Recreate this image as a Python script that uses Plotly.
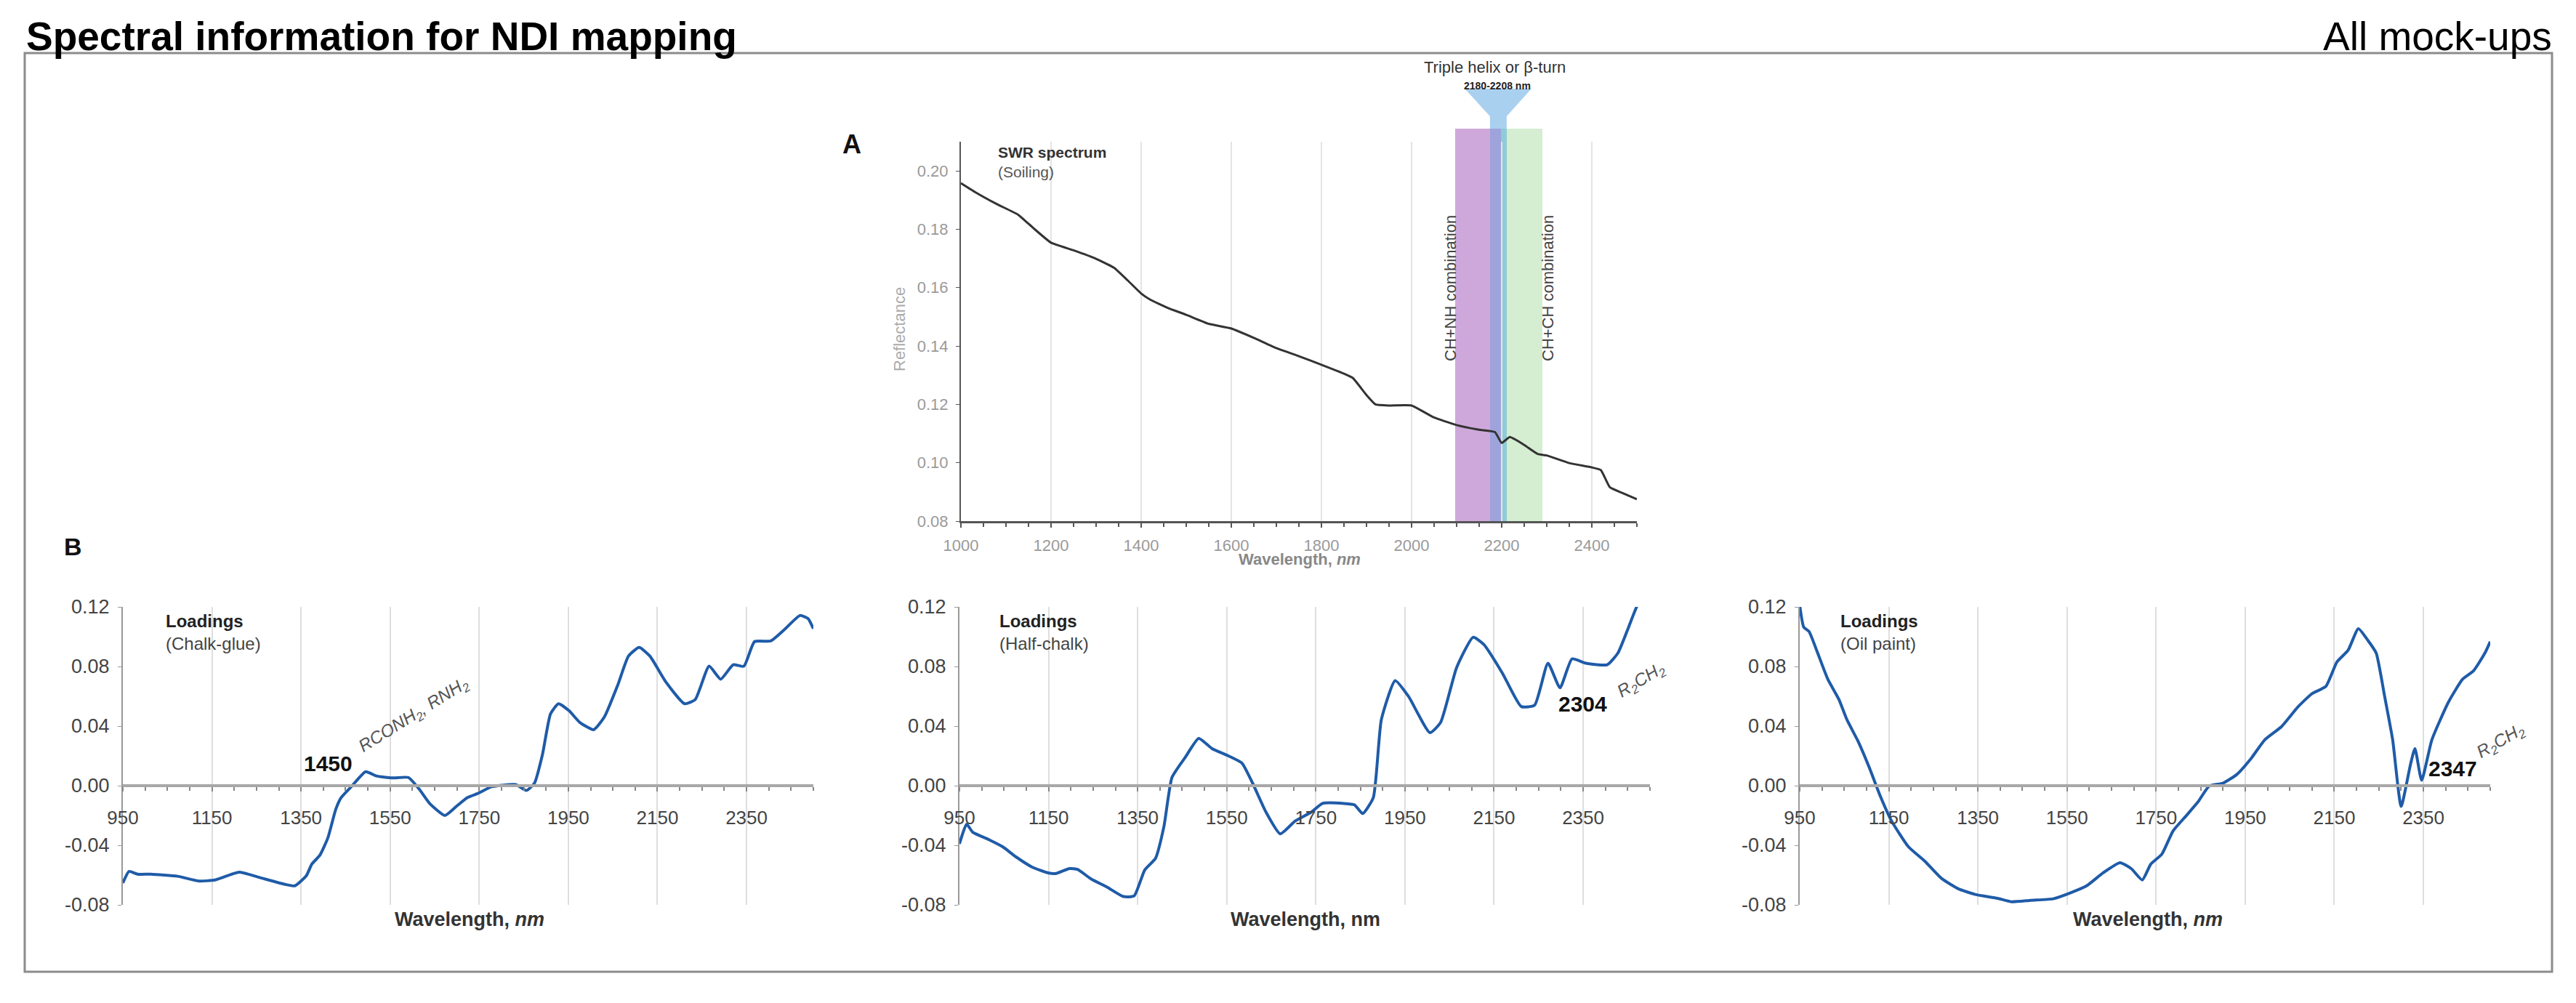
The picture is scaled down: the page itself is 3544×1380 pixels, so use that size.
import plotly.graph_objects as go

W = 3544
H = 1380
PAGE_MARGIN = 8  # default body margin of the html page

# SWIR reflectance spectrum (panel A)
swir_wl = [1000, 1032, 1080, 1127, 1160, 1200, 1250, 1300, 1340, 1370, 1400, 1420, 1460,
           1500, 1550, 1600, 1650, 1700, 1750, 1800, 1850, 1870, 1900, 1920, 1950, 2000,
           2050, 2100, 2150, 2185, 2200, 2218, 2250, 2280, 2300, 2350, 2400, 2420, 2440,
           2470, 2500]
swir_refl = [0.1958, 0.1927, 0.1886, 0.1850, 0.1805, 0.1754, 0.1728, 0.1699, 0.1668, 0.1625,
             0.1580, 0.1559, 0.1530, 0.1507, 0.1476, 0.1460, 0.1428, 0.1393, 0.1365, 0.1336,
             0.1305, 0.1290, 0.1232, 0.1200, 0.1196, 0.1196, 0.1155, 0.1129, 0.1113, 0.1105,
             0.1068, 0.1088, 0.1061, 0.1030, 0.1025, 0.0999, 0.0984, 0.0975, 0.0916, 0.0895,
             0.0875]

# loadings (panel B)
chalk_wl = [950, 964, 983, 1013, 1073, 1121, 1157, 1211, 1254, 1314, 1336, 1362, 1374, 1392,
            1410, 1428, 1440, 1464, 1495, 1519, 1555, 1591, 1615, 1639, 1673, 1699, 1723, 1748,
            1778, 1832, 1856, 1874, 1892, 1910, 1928, 1952, 1976, 2007, 2031, 2061, 2085, 2109,
            2133, 2169, 2211, 2235, 2266, 2292, 2320, 2344, 2368, 2404, 2434, 2470, 2488, 2500]
chalk_load = [-0.0653, -0.0575, -0.0594, -0.0594, -0.0608, -0.0640, -0.0633, -0.0581, -0.0614,
              -0.0662, -0.0672, -0.0604, -0.0527, -0.0468, -0.0352, -0.0158, -0.0080, -0.0003,
              0.0094, 0.0065, 0.0052, 0.0055, -0.0022, -0.0120, -0.0200, -0.0138, -0.0080,
              -0.0051, -0.0007, 0.0007, -0.0032, 0.0017, 0.0210, 0.0482, 0.0550, 0.0502, 0.0424,
              0.0376, 0.0462, 0.0676, 0.0870, 0.0928, 0.0870, 0.0696, 0.0550, 0.0579, 0.0802,
              0.0715, 0.0812, 0.0802, 0.0967, 0.0971, 0.1045, 0.1142, 0.1122, 0.1054]

half_wl = [950, 966, 980, 1016, 1047, 1077, 1113, 1149, 1167, 1197, 1215, 1246, 1282, 1318,
           1342, 1366, 1390, 1409, 1427, 1457, 1487, 1517, 1553, 1584, 1608, 1638, 1670, 1704,
           1740, 1765, 1813, 1837, 1855, 1879, 1897, 1928, 1958, 2006, 2030, 2066, 2103, 2127,
           2169, 2211, 2241, 2271, 2298, 2325, 2356, 2404, 2428, 2452, 2470, 2485, 2500]
half_load = [-0.0390, -0.0259, -0.0313, -0.0362, -0.0410, -0.0478, -0.0546, -0.0585, -0.0589,
             -0.0556, -0.0562, -0.0627, -0.0682, -0.0744, -0.0740, -0.0565, -0.0488, -0.0274,
             0.0055, 0.0191, 0.0317, 0.0249, 0.0201, 0.0152, 0.0017, -0.0177, -0.0323, -0.0236,
             -0.0177, -0.0119, -0.0119, -0.0129, -0.0187, -0.0080, 0.0443, 0.0705, 0.0599,
             0.0356, 0.0424, 0.0793, 0.0996, 0.0948, 0.0754, 0.0531, 0.0540, 0.0822, 0.0657,
             0.0851, 0.0822, 0.0812, 0.0890, 0.1064, 0.1200, 0.1280, 0.1350]

oil_wl = [950, 959, 971, 988, 1013, 1038, 1056, 1081, 1106, 1131, 1156, 1194, 1231, 1269, 1306,
          1344, 1394, 1425, 1469, 1519, 1556, 1594, 1631, 1669, 1694, 1719, 1738, 1763, 1788,
          1819, 1844, 1869, 1900, 1931, 1963, 1994, 2031, 2069, 2100, 2131, 2156, 2181, 2204,
          2225, 2244, 2263, 2281, 2300, 2321, 2331, 2346, 2369, 2406, 2438, 2463, 2488, 2500]
oil_load = [0.1210, 0.1064, 0.1035, 0.0909, 0.0715, 0.0579, 0.0443, 0.0298, 0.0123, -0.0071,
            -0.0236, -0.0410, -0.0507, -0.0624, -0.0692, -0.0730, -0.0756, -0.0779, -0.0769,
            -0.0759, -0.0721, -0.0672, -0.0585, -0.0517, -0.0556, -0.0633, -0.0527, -0.0459,
            -0.0304, -0.0197, -0.0109, -0.0003, 0.0017, 0.0075, 0.0182, 0.0308, 0.0395, 0.0531,
            0.0618, 0.0666, 0.0831, 0.0909, 0.1054, 0.0977, 0.0890, 0.0599, 0.0308, -0.0139,
            0.0143, 0.0249, 0.0036, 0.0308, 0.0560, 0.0715, 0.0773, 0.0890, 0.0967]

# absorption bands drawn on panel A (nm)
band_lo = [2097, 2174, 2198, 2211]
band_hi = [2174, 2198, 2211, 2290]
band_colors = ['#cfa8db', '#9ea4db', '#8fcbd9', '#d5edd0']
funnel_top = [2118, 2266]
funnel_neck = [2174, 2211]

a_yticks = [0.08, 0.10, 0.12, 0.14, 0.16, 0.18, 0.20]
b_ytickvals = [-0.08, -0.04, 0.0, 0.04, 0.08, 0.12]
b_yticktext = ['-0.08', '-0.04', '0.00', '0.04', '0.08', '0.12']

FONT = 'Liberation Sans, Arial, sans-serif'

# panel A plot box in pixels
A_LEFT, A_RIGHT, A_TOP, A_BOT = 1322, 2252, 195, 717
A_RANGE = [0.08, 0.21]


def px(x):
	return (x - PAGE_MARGIN) / (W - 2 * PAGE_MARGIN)


def py(y):
	return 1 - (y - PAGE_MARGIN) / (H - 2 * PAGE_MARGIN)


def a_val(ypix):
	# reflectance value at a pixel row of panel A (band overlay axis reaches above the box)
	return A_RANGE[0] + (A_BOT - ypix) / (A_BOT - A_TOP) * (A_RANGE[1] - A_RANGE[0])


def main():
	fig = go.Figure()

	# bands + funnel on a hidden overlay axis (drawn first, under the spectrum)
	band_top = a_val(177)
	fig.add_trace(go.Bar(
		x=[(lo + hi) / 2 for lo, hi in zip(band_lo, band_hi)],
		width=[hi - lo for lo, hi in zip(band_lo, band_hi)],
		y=[band_top - A_RANGE[0]] * len(band_lo), base=A_RANGE[0],
		marker=dict(color=band_colors, line=dict(width=0)),
		xaxis='x', yaxis='y', hoverinfo='skip'))
	fig.add_trace(go.Scatter(
		x=[funnel_top[0], funnel_top[1], funnel_neck[1], funnel_neck[1],
		   funnel_neck[0], funnel_neck[0], funnel_top[0]],
		y=[a_val(122), a_val(122), a_val(160), band_top, band_top, a_val(160), a_val(122)],
		mode='lines', fill='toself', fillcolor='#aad0ef', line=dict(width=0),
		xaxis='x', yaxis='y', hoverinfo='skip'))

	fig.add_trace(go.Scatter(x=swir_wl, y=swir_refl, mode='lines',
	                         line=dict(color='#333', width=3, shape='spline', smoothing=0.4),
	                         xaxis='x5', yaxis='y5', hoverinfo='skip'))
	panels = [(chalk_wl, chalk_load, '2'), (half_wl, half_load, '3'), (oil_wl, oil_load, '4')]
	for wl, ld, n in panels:
		fig.add_trace(go.Scatter(x=wl, y=ld, mode='lines',
		                         line=dict(color='#1f5ba8', width=4, shape='spline', smoothing=0.5),
		                         xaxis='x' + n, yaxis='y' + n, hoverinfo='skip'))

	# panel A: hidden overlay axes (x, y) and visible axes (x5, y5)
	fig.update_layout(
		xaxis=dict(domain=[px(A_LEFT), px(A_RIGHT)], range=[1000, 2500], anchor='y',
		           visible=False, automargin=False),
		yaxis=dict(domain=[py(A_BOT), py(110)], range=[A_RANGE[0], a_val(110)], anchor='x',
		           visible=False, automargin=False),
		xaxis5=dict(domain=[px(A_LEFT), px(A_RIGHT)], range=[1000, 2500], anchor='y5',
		            tick0=1000, dtick=200, showgrid=True, gridcolor='#e4e4e4', gridwidth=2,
		            showline=True, linecolor='#555', linewidth=3, ticks='outside', ticklen=6,
		            tickcolor='#555', tickwidth=2,
		            minor=dict(tick0=1000, dtick=50, ticks='outside', ticklen=5,
		                       tickcolor='#555', showgrid=False),
		            tickfont=dict(size=22, color='#9a9a9a'), ticklabelstandoff=6,
		            zeroline=False, automargin=False),
		yaxis5=dict(domain=[py(A_BOT), py(A_TOP)], range=A_RANGE, anchor='x5',
		            tickvals=a_yticks, tickformat='.2f', showgrid=False, showline=True,
		            linecolor='#555', linewidth=2, ticks='outside', ticklen=5, tickcolor='#555',
		            tickfont=dict(size=22, color='#9a9a9a'), ticklabelstandoff=6,
		            zeroline=False, automargin=False),
		bargap=0,
	)

	# panel B axes
	b_left = [169, 1320, 2476]
	b_top, b_bot = 835, 1245
	ydom = [py(b_bot), py(b_top)]
	zero_pos = ydom[0] + (0 - (-0.08)) / 0.2 * (ydom[1] - ydom[0])
	for i, left in enumerate(b_left):
		n = str(i + 2)
		fig.update_layout({
			'xaxis' + n: dict(domain=[px(left), px(left + 950)], range=[950, 2500],
			                  anchor='free', position=zero_pos, tick0=950, dtick=200,
			                  showgrid=True, gridcolor='#dedede', gridwidth=2,
			                  showline=True, linecolor='#a8a8a8', linewidth=4,
			                  ticks='outside', ticklen=6, tickcolor='#888', tickwidth=2,
			                  minor=dict(tick0=950, dtick=50, ticks='outside', ticklen=5,
			                             tickcolor='#888', showgrid=False),
			                  tickfont=dict(size=26, color='#444'), ticklabelstandoff=14,
			                  zeroline=False, automargin=False),
			'yaxis' + n: dict(domain=ydom, range=[-0.08, 0.12], anchor='x' + n,
			                  tickvals=b_ytickvals, ticktext=b_yticktext, showgrid=False,
			                  showline=True, linecolor='#999', linewidth=2, ticks='outside',
			                  ticklen=5, tickcolor='#999', tickfont=dict(size=27, color='#444'),
			                  ticklabelstandoff=6, zeroline=False, automargin=False),
		})

	# frame
	shapes = [dict(type='rect', xref='paper', yref='paper', x0=px(34), x1=px(3511),
	               y0=py(1337), y1=py(73), line=dict(color='#8c8c8c', width=3))]

	ann = []

	def text(x, y, t, size, color='#222', xanchor='center', angle=0):
		ann.append(dict(x=px(x), y=py(y), xref='paper', yref='paper', text=t, showarrow=False,
		                xanchor=xanchor, yanchor='middle', textangle=angle,
		                font=dict(size=size, color=color, family=FONT)))

	text(34, 50, '<b>Spectral information for NDI mapping</b>', 55, '#000', 'left')
	text(3513, 50, 'All mock-ups', 55, '#000', 'right')

	text(1172, 199, '<b>A</b>', 36, '#111')
	text(100, 752, '<b>B</b>', 34, '#111')

	text(1371, 210, '<b>SWR spectrum</b>', 21, '#333', 'left')
	text(1371, 237, '(Soiling)', 21, '#555', 'left')
	text(1238, 453, 'Reflectance', 22, '#aaa', angle=-90)
	text(1788, 770, '<b>Wavelength, <i>nm</i></b>', 22, '#888')
	text(1996, 397, 'CH+NH combination', 22, '#444', angle=-90)
	text(2130, 397, 'CH+CH combination', 22, '#444', angle=-90)
	text(2056, 93, 'Triple helix or β-turn', 22, '#333')
	text(2060, 118, '<b>2180-2208 nm</b>', 14, '#222')

	names = ['(Chalk-glue)', '(Half-chalk)', '(Oil paint)']
	xtitles = ['<b>Wavelength, <i>nm</i></b>', '<b>Wavelength, nm</b>', '<b>Wavelength, <i>nm</i></b>']
	lx = [226, 1373, 2530]
	tx = [646, 1796, 2955]
	for i in range(3):
		text(lx[i], 854, '<b>Loadings</b>', 24, '#222', 'left')
		text(lx[i], 885, names[i], 24, '#444', 'left')
		text(tx[i], 1265, xtitles[i], 27, '#333')

	text(451, 1050, '<b>1450</b>', 30, '#111')
	text(569, 984, '<i>RCONH<sub>2</sub>, RNH<sub>2</sub></i>', 24, '#555', angle=-32)
	text(2177, 968, '<b>2304</b>', 30, '#111')
	text(2258, 937, '<i>R<sub>2</sub>CH<sub>2</sub></i>', 24, '#555', angle=-31)
	text(3374, 1057, '<b>2347</b>', 30, '#111')
	text(3440, 1020, '<i>R<sub>2</sub>CH<sub>2</sub></i>', 24, '#555', angle=-30)

	fig.update_layout(
		width=W - 2 * PAGE_MARGIN, height=H - 2 * PAGE_MARGIN,
		margin=dict(l=0, r=0, t=0, b=0, autoexpand=False),
		paper_bgcolor='white', plot_bgcolor='rgba(0,0,0,0)', showlegend=False,
		font=dict(family=FONT, color='#333'),
		shapes=shapes, annotations=ann,
	)
	fig.write_html('out.html', config={'displayModeBar': False})


if __name__ == '__main__':
	main()
